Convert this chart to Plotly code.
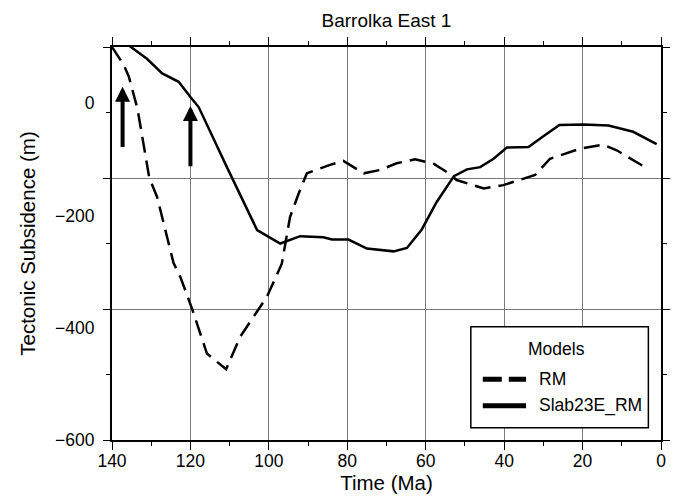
import plotly.graph_objects as go

# ---------------- data ----------------
title_text = "Barrolka East 1"
series_names = ["RM", "Slab23E_RM"]

rm_time = [140, 138.5, 137, 135.7, 133.5, 130.5, 128.5, 124.3, 122.6, 119.6, 115.8,
           110.9, 107.3, 100.5, 96.7, 94.6, 92.4, 90.3, 84.4, 81.0, 75.8, 71.6, 67.4,
           62.7, 58.0, 54.6, 52.1, 45.2, 40.2, 32.1, 28.3, 20.6, 14.7, 11.3, 4.1]
rm_subs = [100, 85, 68, 47, -10, -133, -167, -285, -309, -366, -446,
           -474, -416, -345, -286, -203, -161, -125, -110, -103, -125, -119, -107,
           -100, -108, -123, -137, -152, -146, -128, -99, -81, -74, -84, -114]

slab_time = [140, 135.1, 131.1, 127.2, 123.0, 120.0, 117.9, 110.7, 103.0, 97.1, 92.0,
             86.1, 83.9, 79.7, 75.0, 68.2, 64.8, 61.0, 57.2, 52.8, 49.5, 46.1, 42.7,
             39.3, 33.8, 30.0, 25.9, 19.8, 13.4, 7.1, 1.1]
slab_subs = [125, 100, 79, 53, 38, 11, -7, -114, -226, -250, -237,
             -239, -243, -243, -259, -264, -258, -225, -176, -130, -118, -114, -99,
             -79, -78, -59, -39, -38, -40, -51, -73]

# arrows (time, tip value, tail value)
arrow_time = [137.3, 120.0]
arrow_tip = [29, -5]
arrow_tail = [-81, -115]

x_ticks = [140, 120, 100, 80, 60, 40, 20, 0]
y_label_vals = [0, -200, -400, -600]
y_major_ticks = [100, -133.33, -366.67, -600]
y_minor_ticks = [-16.67, -250, -483.33]

FONT = "Liberation Sans, Arial, Helvetica, sans-serif"

fig = go.Figure()

fig.add_trace(go.Scatter(x=rm_time, y=rm_subs, mode="lines", name=series_names[0],
                         line=dict(color="black", width=2.5, dash="16px,8px"),
                         showlegend=False))
fig.add_trace(go.Scatter(x=slab_time, y=slab_subs, mode="lines", name=series_names[1],
                         line=dict(color="black", width=2.5),
                         showlegend=False))
# carrier trace for the tick/grid axis
fig.add_trace(go.Scatter(x=[None], y=[None], yaxis="y2", showlegend=False,
                         hoverinfo="skip"))

for t, tip, tail in zip(arrow_time, arrow_tip, arrow_tail):
    fig.add_annotation(x=t, y=tip, ax=t, ay=tail, xref="x", yref="y",
                       axref="x", ayref="y", showarrow=True, text="",
                       arrowhead=2, arrowsize=0.75, arrowwidth=4,
                       arrowcolor="black", standoff=0, startstandoff=0)

# manual legend box
lx0, lx1, ly0, ly1 = 0.6536, 0.977, 0.0313, 0.288
fig.add_shape(type="rect", xref="paper", yref="paper", x0=lx0, x1=lx1, y0=ly0, y1=ly1,
              line=dict(color="black", width=1.5), fillcolor="white", layer="above")
leg_rows = [0.1543, 0.0872]
leg_dash = ["19px,7px", "solid"]
for yy, dd, nm in zip(leg_rows, leg_dash, series_names):
    fig.add_shape(type="line", xref="paper", yref="paper", x0=0.6754, x1=0.7542,
                  y0=yy, y1=yy, line=dict(color="black", width=5, dash=dd),
                  layer="above")
    fig.add_annotation(x=0.7737, y=yy, xref="paper", yref="paper", text=nm,
                       showarrow=False, xanchor="left", yanchor="middle",
                       font=dict(size=17.5, color="black", family=FONT))
fig.add_annotation(x=0.810, y=0.2306, xref="paper", yref="paper", text="Models",
                   showarrow=False, xanchor="center", yanchor="middle",
                   font=dict(size=17.5, color="black", family=FONT))

fig.update_layout(
    width=681, height=499,
    margin=dict(l=112, r=20, t=47, b=59, autoexpand=False),
    paper_bgcolor="white", plot_bgcolor="white",
    font=dict(family=FONT, size=17, color="black"),
    title=dict(text=title_text, x=0.5, xref="paper", xanchor="center",
               y=1 - 20 / 499, yref="container", yanchor="middle",
               font=dict(size=19, family=FONT, color="black")),
    xaxis=dict(range=[140, 0], tickmode="array", tickvals=x_ticks, automargin=False,
               ticks="outside", ticklen=8, tickwidth=1, tickcolor="black",
               showline=True, linewidth=2, linecolor="black", mirror="ticks",
               showgrid=True, gridcolor="#7a7a7a", gridwidth=1, zeroline=False,
               minor=dict(dtick=10, ticks="outside", ticklen=4, tickwidth=1,
                          tickcolor="black", showgrid=False),
               tickfont=dict(size=17.5), ticklabelstandoff=-4,
               title=dict(text="Time (Ma)", font=dict(size=20.5), standoff=6)),
    yaxis=dict(range=[-600, 100], tickmode="array", tickvals=y_label_vals,
               automargin=False,
               ticks="outside", ticklen=12, tickcolor="rgba(0,0,0,0)",
               showline=True, linewidth=2, linecolor="black", mirror=True,
               showgrid=False, zeroline=False, tickfont=dict(size=17.5),
               title=dict(text="Tectonic Subsidence (m)", font=dict(size=20.5),
                          standoff=14)),
    yaxis2=dict(range=[-600, 100], overlaying="y", side="left", tickmode="array",
                tickvals=y_major_ticks, showticklabels=False, automargin=False,
                ticks="outside", ticklen=8, tickwidth=1, tickcolor="black",
                mirror="ticks", showline=False, showgrid=True, gridcolor="#7a7a7a",
                gridwidth=1, zeroline=False,
                minor=dict(tickvals=y_minor_ticks, ticks="outside", ticklen=5,
                           tickwidth=1, tickcolor="black", showgrid=False)),
)

fig.write_html("out.html")
